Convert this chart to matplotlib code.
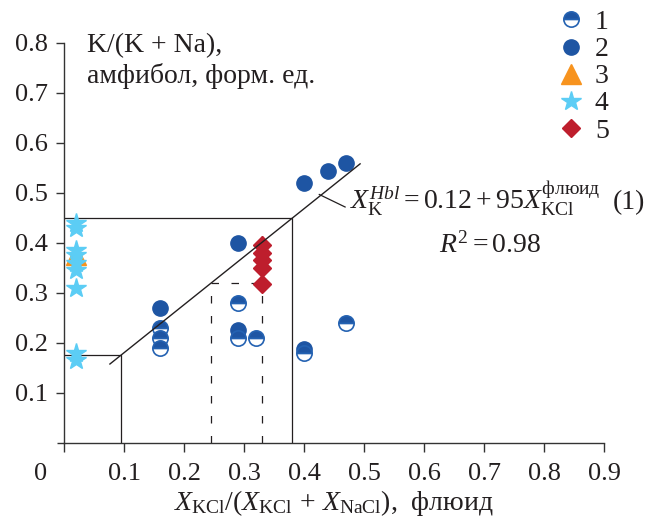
import matplotlib
matplotlib.use("Agg")
import matplotlib.pyplot as plt
from matplotlib.lines import Line2D

plt.rcParams['font.family'] = ['Liberation Serif', 'DejaVu Serif']
plt.rcParams['mathtext.fontset'] = 'custom'
plt.rcParams['mathtext.rm'] = 'Liberation Serif'
plt.rcParams['mathtext.it'] = 'Liberation Serif:italic'
plt.rcParams['mathtext.bf'] = 'Liberation Serif:bold'

# data: x = KCl mole fraction in fluid, y = K/(K+Na) in amphibole
x1 = [0.16, 0.16, 0.16, 0.29, 0.29, 0.32, 0.40, 0.47]
y1 = [0.23, 0.21, 0.19, 0.28, 0.21, 0.21, 0.18, 0.24]
x2 = [0.16, 0.29, 0.29, 0.40, 0.40, 0.44, 0.47]
y2 = [0.27, 0.40, 0.225, 0.187, 0.52, 0.543, 0.559]
x3 = [0.02]
y3 = [0.375]
x4 = [0.02, 0.02, 0.02, 0.02, 0.02, 0.02, 0.02, 0.02, 0.02]
y4 = [0.44, 0.43, 0.385, 0.375, 0.36, 0.345, 0.31, 0.18, 0.165]
x5 = [0.33, 0.33, 0.33, 0.33, 0.33]
y5 = [0.395, 0.38, 0.365, 0.35, 0.318]

# regression line and read-off guides
fit_x = [0.076, 0.493]
fit_slope = 0.96
fit_icpt = 0.085
guide_lo = (0.094, 0.175)
guide_hi = (0.38, 0.45)
dash_x = [0.245, 0.33]
dash_y = 0.32

blue = '#1E55A3'
blue_edge = '#2462B2'
orange = '#F7931E'
sky = '#5CCDF5'
red = '#BE1E2D'
ink = '#231F20'
FS = 20

fig = plt.figure(figsize=(6.61, 5.18), dpi=100)
ax = fig.add_axes([0.0973, 0.1448, 0.8169, 0.7722])
ax.set_xlim(0, 0.9)
ax.set_ylim(0, 0.8)

# guides
ax.plot([0, guide_hi[0], guide_hi[0]], [guide_hi[1], guide_hi[1], 0], color=ink, lw=0.9, zorder=2)
ax.plot([0, guide_lo[0], guide_lo[0]], [guide_lo[1], guide_lo[1], 0], color=ink, lw=0.9, zorder=2)
ax.plot([dash_x[0], dash_x[0]], [0, dash_y], color=ink, lw=0.9, ls=(0, (6, 10)), zorder=2)
ax.plot([dash_x[1], dash_x[1]], [0, 0.415], color=ink, lw=0.9, ls=(0, (6, 10)), zorder=2)
ax.plot(dash_x, [dash_y, dash_y], color=ink, lw=0.9, ls=(0, (6, 10)), zorder=2)

# points
ax.plot(x2, y2, 'o', ms=11, color=blue, mec=blue, zorder=3)
for xi, yi in zip(x1, y1):
    ax.plot(xi, yi, 'o', ms=11, fillstyle='top', mfc=blue, mfcalt='white',
            mec=blue_edge, mew=1.2, zorder=3)
ax.plot(x3, y3, '^', ms=15, color=orange, mec=orange, zorder=3)
ax.plot(x4, y4, '*', ms=14.5, color=sky, mec=sky, zorder=3)
ax.plot(x5, y5, 'D', ms=9.5, color=red, mec=red, zorder=3)

# fit line with leader to the equation
ax.plot(fit_x, [fit_icpt + fit_slope * v for v in fit_x], color=ink, lw=1.0, zorder=4)
ax.plot([0.425, 0.468], [0.497, 0.472], color=ink, lw=0.9, zorder=4)

ax.text(0.4755, 0.468, r'$X_{\mathrm{K}}^{Hbl} = 0.12 + 95X_{\mathrm{KCl}}^{\mathrm{флюид}}$',
        fontsize=FS, color=ink, va='baseline', ha='left')
ax.text(0.968, 0.468, '(1)', fontsize=FS, color=ink, va='baseline', ha='right')
ax.text(0.7095, 0.38, r'$R^2 = 0.98$', fontsize=FS, color=ink, va='baseline', ha='center')
ax.text(0.038, 0.782, 'K/(K + Na),', fontsize=FS, color=ink, va='baseline', ha='left')
ax.text(0.038, 0.72, 'амфибол, форм. ед.', fontsize=FS, color=ink, va='baseline', ha='left')

# axes styling
for s in ['top', 'right']:
    ax.spines[s].set_visible(False)
for s in ['left', 'bottom']:
    ax.spines[s].set_color('#333333')
    ax.spines[s].set_linewidth(1.0)
ax.plot([-0.012, 0], [0, 0], color='#333333', lw=1.0, clip_on=False, solid_capstyle='butt')

ax.set_xticks([0, 0.1, 0.2, 0.3, 0.4, 0.5, 0.6, 0.7, 0.8, 0.9])
ax.set_xticklabels(['', '0.1', '0.2', '0.3', '0.4', '0.5', '0.6', '0.7', '0.8', '0.9'])
ax.set_yticks([0.1, 0.2, 0.3, 0.4, 0.5, 0.6, 0.7, 0.8])
ax.set_yticklabels(['0.1', '0.2', '0.3', '0.4', '0.5', '0.6', '0.7', '0.8'])
ax.tick_params(axis='x', direction='out', length=6.5, width=1.0, color='#333333',
               labelsize=19, labelcolor=ink, pad=8)
ax.tick_params(axis='y', direction='out', length=6, width=1.0, color='#333333',
               labelsize=19, labelcolor=ink, pad=6)
ax.text(-0.0388, -0.062, '0', fontsize=19, color=ink, ha='center', va='center', clip_on=False)

ax.set_xlabel(r'$X_{\mathrm{KCl}}/(X_{\mathrm{KCl}}\,+\,X_{\mathrm{NaCl}})$,  флюид',
              fontsize=FS, color=ink, va='baseline')
ax.xaxis.set_label_coords(0.5, -0.168)

handles = [
    Line2D([], [], ls='', marker='o', ms=11, fillstyle='top', mfc=blue, mfcalt='white',
           mec=blue_edge, mew=1.2),
    Line2D([], [], ls='', marker='o', ms=11, color=blue),
    Line2D([], [], ls='', marker='^', ms=15, color=orange),
    Line2D([], [], ls='', marker='*', ms=14.5, color=sky),
    Line2D([], [], ls='', marker='D', ms=9.5, color=red),
]
fig.legend(handles, ['1', '2', '3', '4', '5'], loc='upper left',
           bbox_to_anchor=(0.835, 0.992), frameon=False, fontsize=FS,
           borderaxespad=0, borderpad=0.2,
           handlelength=1.0, handletextpad=0.35, labelspacing=0.06, labelcolor=ink)

fig.savefig('out.png', dpi=100)
